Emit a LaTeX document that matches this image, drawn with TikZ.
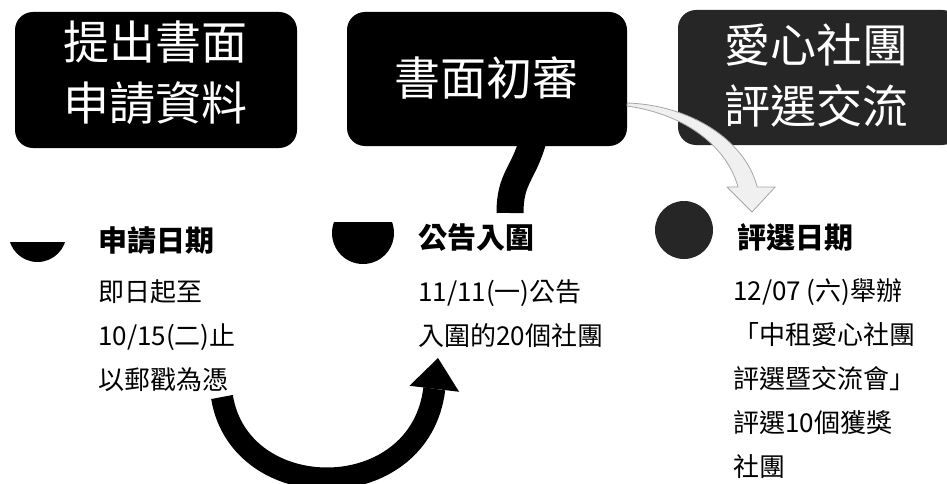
\documentclass[tikz,border=0pt]{standalone}
\usepackage{fontspec}
\newfontfamily\cjk{Noto Sans CJK TC}
\usetikzlibrary{arrows.meta,positioning}

\tikzset{
  stagebox/.style={rounded corners=18pt, inner sep=0pt, fill=black},
  stagetext/.style={text=white, align=center, inner sep=0pt, font=\cjk\fontsize{46}{61}\selectfont},
  headtext/.style={anchor=base west, inner sep=0pt, font=\cjk\bfseries\fontsize{29}{35}\selectfont},
  bodytext/.style={anchor=base west, align=left, inner sep=0pt, font=\cjk\fontsize{26}{44}\selectfont},
  linkband/.style={line width=27pt, black},
  looparrow/.style={line width=22pt, black, -{Triangle[length=31pt, width=50pt, line width=0pt]}},
  hollowarrow/.style={fill=gray!12, draw=gray!70, line width=0.8pt, line join=round}
}

\begin{document}
\begin{tikzpicture}[x=1pt, y=-1pt]
  \useasboundingbox (0,0) rectangle (947,484);

  % stage boxes
  \node[stagebox, minimum width=282, minimum height=136](ApplyBox) at (156,80){};
  \node[stagetext](ApplyText) at (155,73){提出書面\\申請資料};
  \node[stagebox, minimum width=280, minimum height=134](ReviewBox) at (487,79){};
  \node[stagetext](ReviewText) at (486,78){書面初審};
  \node[stagebox, fill=black!85, minimum width=282, minimum height=135](VoteBox) at (819,77.5){};
  \node[stagetext](VoteText) at (816,75.5){愛心社團\\評選交流};

  % rising dots
  \begin{scope}
    \clip (0,242) rectangle (100,300);
    \fill (37.5,233) circle (29);
  \end{scope}
  \begin{scope}
    \clip (320,222) rectangle (420,300);
    \fill (363,233) circle (31);
  \end{scope}
  \fill[black!85] (684,230) circle (29);

  % dates (body nodes sit on the baseline of their last line)
  \node[headtext](ApplyHead) at (98,251){申請日期};
  \node[bodytext](ApplyBody) at (98,389){即日起至\\10/15(二)止\\以郵戳為憑};
  \node[headtext](NoticeHead) at (418,248){公告入圍};
  \node[bodytext](NoticeBody) at (418,345){11/11(一)公告\\入圍的20個社團};
  \node[headtext](VoteHead) at (737,248){評選日期};
  \node[bodytext](VoteBody) at (733,476){12/07 (六)舉辦\\「中租愛心社團\\評選暨交流會」\\評選10個獲獎\\社團};

  % connectors
  \coordinate (ReviewFoot) at (510,213);
  \coordinate (LoopFrom) at (222,397);
  \coordinate (LoopTo) at (438,358);
  \coordinate (HintFrom) at ([yshift=-24pt]ReviewBox.east);
  \coordinate (HintTo) at (752,212);
  \draw[linkband] ([xshift=46pt,yshift=6pt]ReviewBox.south) .. controls +(-10,35) and +(0,-35) .. (ReviewFoot);
  \draw[looparrow] (LoopFrom) .. controls +(18,110) and +(-18,149) .. (LoopTo);
  \filldraw[hollowarrow] (HintFrom) .. controls +(63,2) and +(-12,-47) .. ++(130,84)
    -- ++(18,0) -- (HintTo) -- ++(-25,-25) -- ++(11,0)
    .. controls +(-10,-37) and +(63,9) .. ++(-111,-81) -- cycle;
\end{tikzpicture}
\end{document}
